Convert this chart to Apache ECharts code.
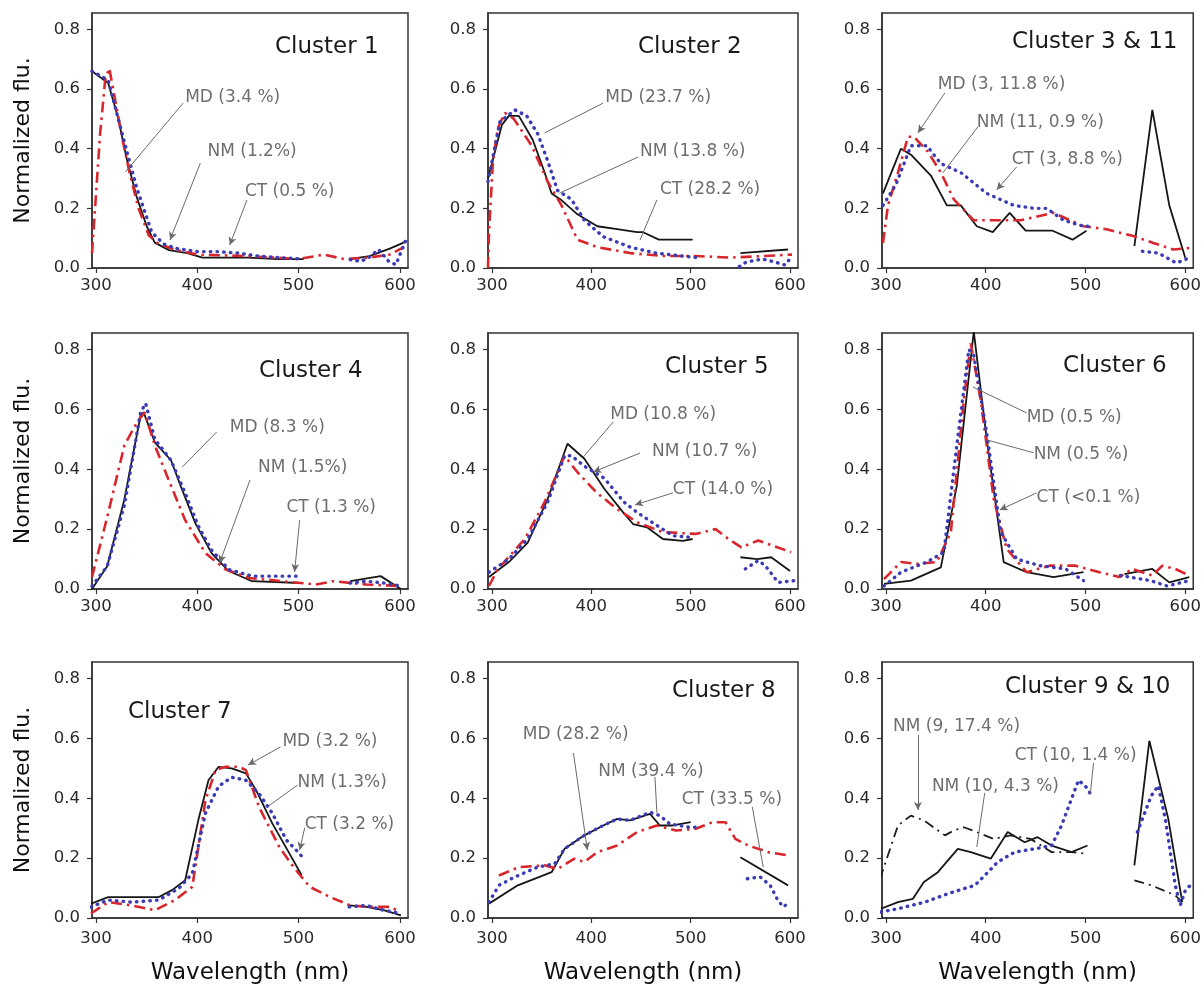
<!DOCTYPE html>
<html><head><meta charset="utf-8">
<script src="https://cdn.jsdelivr.net/npm/echarts@6/dist/echarts.min.js"></script>
<style>html,body{margin:0;padding:0;background:#fff}#c{width:1204px;height:996px}</style>
</head><body><div id="c"></div>
<script>
// ---------- tick labels / titles ----------
const xTicks = [300, 400, 500, 600];
const yTicks = [0, 0.2, 0.4, 0.6, 0.8];
const clusterTitles = ['Cluster 1','Cluster 2','Cluster 3 & 11','Cluster 4','Cluster 5','Cluster 6','Cluster 7','Cluster 8','Cluster 9 & 10'];

// ---------- series values: [wavelength nm, normalized fluorescence] (null = gap) ----------
const c1MD = [[296,0.66],[312,0.62],[322,0.5],[330,0.37],[340,0.24],[350,0.14],[358,0.085],[372,0.06],[390,0.05],[405,0.035],[450,0.035],[480,0.03],[505,0.03],[528,null],[550,0.03],[570,0.04],[590,0.065],[607,0.09]];
const c1NM = [[296,0.66],[312,0.63],[325,0.46],[340,0.27],[355,0.12],[367,0.08],[380,0.065],[400,0.055],[420,0.055],[440,0.05],[460,0.04],[480,0.035],[505,0.03],[528,null],[551,0.028],[561,0.022],[569,0.034],[579,0.062],[589,0.022],[596,0.011],[606,0.095]];
const c1CT = [[296,0.05],[300,0.25],[304,0.45],[309,0.63],[313,0.67],[318,0.58],[325,0.45],[333,0.32],[342,0.2],[352,0.11],[362,0.08],[380,0.06],[400,0.045],[450,0.04],[500,0.03],[525,0.045],[545,0.03],[570,0.035],[590,0.045],[604,0.07]];

const c2MD = [[296,0.3],[310,0.48],[317,0.51],[327,0.51],[341,0.43],[353,0.32],[360,0.25],[369,0.23],[386,0.18],[406,0.14],[426,0.13],[446,0.12],[452,0.12],[468,0.095],[502,0.095],[526,null],[550,0.05],[598,0.062]];
const c2NM = [[296,0.29],[308,0.49],[323,0.53],[335,0.51],[346,0.45],[356,0.36],[366,0.26],[380,0.23],[393,0.16],[412,0.105],[439,0.07],[465,0.05],[492,0.04],[506,0.035],[528,null],[549,0.005],[556,0.02],[572,0.03],[585,0.02],[595,0.01],[602,0.04]];
const c2CT = [[296,0.0],[297,0.12],[301,0.36],[306,0.47],[313,0.52],[322,0.5],[340,0.41],[356,0.29],[370,0.21],[386,0.095],[406,0.07],[439,0.05],[473,0.04],[506,0.04],[540,0.035],[573,0.04],[602,0.045]];

const c3MD = [[297,0.25],[315,0.4],[325,0.38],[345,0.31],[361,0.21],[375,0.21],[391,0.14],[407,0.12],[424,0.185],[440,0.125],[467,0.125],[487,0.095],[501,0.125],[525,null],[549,0.073],[567,0.53],[584,0.21],[600,0.034]];
const c3NM = [[297,0.21],[310,0.28],[325,0.41],[341,0.41],[355,0.35],[375,0.32],[401,0.25],[428,0.21],[448,0.2],[461,0.2],[478,0.16],[498,0.14],[504,0.14],[530,null],[557,0.056],[573,0.05],[591,0.017],[600,0.028],[605,0.039]];
const c3CT = [[297,0.084],[302,0.21],[312,0.32],[322,0.44],[328,0.44],[342,0.39],[355,0.32],[368,0.23],[388,0.16],[408,0.16],[435,0.16],[468,0.185],[498,0.14],[521,0.13],[548,0.107],[568,0.084],[588,0.062],[605,0.067]];

const c4MD = [[296,0.0],[311,0.076],[328,0.3],[344,0.58],[347,0.59],[358,0.49],[374,0.43],[384,0.34],[398,0.22],[414,0.12],[431,0.06],[454,0.026],[501,0.02],[526,null],[551,0.026],[581,0.043],[601,0.0]];
const c4NM = [[296,0.01],[311,0.076],[328,0.28],[344,0.59],[349,0.62],[358,0.5],[374,0.43],[388,0.32],[401,0.21],[414,0.13],[431,0.065],[454,0.043],[501,0.043],[526,null],[551,0.02],[567,0.026],[584,0.02],[601,0.01]];
const c4CT = [[296,0.04],[311,0.24],[328,0.48],[341,0.56],[348,0.59],[358,0.48],[371,0.37],[388,0.23],[408,0.12],[428,0.065],[451,0.037],[484,0.026],[517,0.015],[534,0.026],[567,0.015],[601,0.01]];

const c5MD = [[297,0.04],[317,0.09],[336,0.155],[356,0.3],[376,0.485],[393,0.435],[413,0.335],[432,0.256],[442,0.217],[456,0.206],[472,0.167],[492,0.161],[502,0.167],[526,null],[550,0.106],[567,0.1],[581,0.106],[600,0.06]];
const c5NM = [[297,0.056],[317,0.1],[336,0.167],[356,0.29],[373,0.445],[380,0.445],[393,0.41],[413,0.37],[433,0.29],[446,0.256],[466,0.212],[482,0.178],[499,0.173],[527,null],[555,0.067],[568,0.095],[575,0.078],[588,0.022],[605,0.028]];
const c5CT = [[297,0.01],[306,0.067],[333,0.167],[353,0.29],[366,0.39],[373,0.445],[386,0.39],[406,0.32],[426,0.267],[446,0.223],[472,0.19],[505,0.184],[525,0.2],[538,0.167],[551,0.139],[568,0.162],[601,0.123]];

const c6MD = [[298,0.017],[325,0.028],[355,0.072],[371,0.345],[388,0.86],[401,0.5],[418,0.09],[441,0.056],[468,0.04],[498,0.056],[518,null],[539,0.05],[567,0.067],[584,0.022],[604,0.04]];
const c6NM = [[298,0.01],[315,0.056],[341,0.09],[358,0.123],[371,0.48],[383,0.8],[388,0.78],[401,0.52],[415,0.19],[431,0.1],[454,0.078],[480,0.067],[498,0.028],[518,null],[535,0.045],[565,0.028],[582,0.01],[604,0.028]];
const c6CT = [[298,0.033],[315,0.09],[331,0.084],[351,0.09],[365,0.19],[378,0.63],[385,0.82],[395,0.63],[408,0.3],[421,0.134],[441,0.056],[464,0.078],[490,0.078],[514,0.056],[534,0.04],[547,0.067],[567,0.045],[577,0.078],[590,0.067],[604,0.045]];

const c7MD = [[295,0.048],[312,0.07],[335,0.07],[362,0.07],[375,0.093],[388,0.126],[401,0.327],[411,0.46],[421,0.505],[434,0.5],[448,0.483],[458,0.427],[474,0.316],[491,0.215],[503,0.143],[527,null],[550,0.042],[567,0.037],[584,0.026],[601,0.009]];
const c7NM = [[295,0.037],[312,0.06],[335,0.053],[362,0.06],[382,0.1],[395,0.148],[408,0.35],[421,0.44],[434,0.47],[448,0.46],[461,0.415],[474,0.35],[488,0.26],[501,0.215],[506,0.193],[528,null],[550,0.037],[567,0.042],[584,0.026],[601,0.015]];
const c7CT = [[295,0.015],[312,0.053],[335,0.042],[358,0.026],[378,0.06],[395,0.104],[408,0.393],[418,0.494],[428,0.505],[441,0.505],[448,0.494],[461,0.37],[481,0.237],[495,0.17],[511,0.104],[531,0.07],[551,0.042],[571,0.037],[591,0.037],[600,0.02]];

const c8MD = [[297,0.048],[326,0.109],[360,0.153],[373,0.231],[393,0.276],[412,0.309],[426,0.331],[439,0.326],[459,0.348],[469,0.309],[482,0.309],[500,0.32],[525,null],[550,0.203],[598,0.109]];
const c8NM = [[297,0.053],[307,0.109],[323,0.137],[346,0.17],[363,0.181],[373,0.231],[393,0.276],[412,0.309],[426,0.331],[439,0.326],[459,0.353],[469,0.342],[479,0.314],[499,0.303],[509,0.303],[533,null],[557,0.131],[570,0.137],[580,0.109],[587,0.064],[593,0.037],[600,0.053]];
const c8CT = [[307,0.142],[327,0.17],[353,0.176],[366,0.164],[383,0.198],[393,0.187],[406,0.22],[426,0.242],[446,0.287],[466,0.309],[485,0.292],[505,0.298],[522,0.32],[535,0.32],[545,0.264],[558,0.242],[578,0.22],[598,0.209]];

const c9NM10 = [[295,0.031],[312,0.053],[327,0.064],[338,0.12],[352,0.153],[372,0.231],[385,0.22],[405,0.198],[422,0.287],[439,0.253],[452,0.27],[466,0.242],[486,0.22],[502,0.242],[526,null],[549,0.176],[564,0.592],[583,0.331],[597,0.053]];
const c9CT10 = [[295,0.02],[312,0.031],[339,0.053],[362,0.081],[389,0.109],[399,0.142],[412,0.187],[429,0.22],[449,0.231],[466,0.242],[476,0.309],[486,0.398],[493,0.46],[500,0.44],[506,0.41],[529,null],[552,0.287],[566,0.409],[573,0.442],[580,0.331],[590,0.109],[595,0.042],[600,0.092],[605,0.109]];
const c9NM9 = [[294,0.131],[312,0.309],[325,0.342],[338,0.326],[359,0.276],[368,0.292],[378,0.303],[391,0.287],[408,0.264],[425,0.276],[445,0.264],[466,0.22],[486,0.22],[502,0.214],[526,null],[549,0.126],[566,0.109],[590,0.076],[597,0.053]];

// ---------- annotations: [text, textX, textY, lineFromX, lineFromY, lineToX, lineToY, arrow] (data units) ----------
const ann1 = [['MD (3.4 %)',388,0.57,386,0.553,329,0.322,0],['NM (1.2%)',410,0.389,403,0.352,373,0.094,1],['CT (0.5 %)',447,0.255,449,0.228,432,0.077,1]];
const ann2 = [['MD (23.7 %)',414,0.57,412,0.553,353,0.453,0],['NM (13.8 %)',449,0.389,447,0.372,368,0.251,0],['CT (28.2 %)',469,0.262,466,0.228,449,0.094,0]];
const ann3 = [['MD (3, 11.8 %)',352,0.614,359,0.587,332,0.453,1],['NM (11, 0.9 %)',391,0.486,392,0.473,357,0.319,0],['CT (3, 8.8 %)',426,0.362,431,0.339,411,0.262,1]];
const ann4 = [['MD (8.3 %)',432,0.538,419,0.524,385,0.407,0],['NM (1.5%)',460,0.404,452,0.364,422,0.087,1],['CT (1.3 %)',488,0.271,501,0.23,496,0.057,1]];
const ann5 = [['MD (10.8 %)',419,0.581,422,0.558,392,0.441,0],['NM (10.7 %)',461,0.458,449,0.454,402,0.391,1],['CT (14.0 %)',482,0.331,482,0.321,444,0.281,1]];
const ann6 = [['MD (0.5 %)',441,0.574,441,0.588,387,0.675,0],['NM (0.5 %)',448,0.448,448,0.455,401,0.498,0],['CT (<0.1 %)',451,0.307,451,0.321,414,0.264,1]];
const ann7 = [['MD (3.2 %)',484,0.588,482,0.571,450,0.511,1],['NM (1.3%)',499,0.451,499,0.444,469,0.371,0],['CT (3.2 %)',506,0.311,506,0.301,501,0.227,1]];
const ann8 = [['MD (28.2 %)',331,0.611,382,0.551,396,0.227,1],['NM (39.4 %)',407,0.488,464,0.471,466,0.351,0],['CT (33.5 %)',491,0.394,562,0.371,573,0.17,0]];
const ann9 = [['NM (9, 17.4 %)',307,0.638,332,0.611,332,0.361,1],['CT (10, 1.4 %)',429,0.544,508,0.518,505,0.418,0],['NM (10, 4.3 %)',346,0.438,399,0.418,391,0.237,0]];

// ---------- build ----------
const FONT = 'DejaVu Sans';
const STYLES = {
  solid:   {color:'#161616', width:1.8, type:'solid'},
  dotted:  {color:'#3b3bb4', width:3.4, type:[0.5,6.2], cap:'round'},
  dashdot: {color:'#d8262c', width:2.6, type:[11,5,2.5,5]},
  dashdotK:{color:'#1e1e1e', width:1.8, type:[10,5,2,5]}
};
const panels = [
  {lines:[[c1MD,'solid'],[c1CT,'dashdot'],[c1NM,'dotted']], ann:ann1},
  {lines:[[c2MD,'solid'],[c2CT,'dashdot'],[c2NM,'dotted']], ann:ann2},
  {lines:[[c3MD,'solid'],[c3CT,'dashdot'],[c3NM,'dotted']], ann:ann3},
  {lines:[[c4MD,'solid'],[c4CT,'dashdot'],[c4NM,'dotted']], ann:ann4},
  {lines:[[c5MD,'solid'],[c5CT,'dashdot'],[c5NM,'dotted']], ann:ann5},
  {lines:[[c6MD,'solid'],[c6CT,'dashdot'],[c6NM,'dotted']], ann:ann6},
  {lines:[[c7MD,'solid'],[c7CT,'dashdot'],[c7NM,'dotted']], ann:ann7},
  {lines:[[c8MD,'solid'],[c8CT,'dashdot'],[c8NM,'dotted']], ann:ann8},
  {lines:[[c9NM10,'solid'],[c9NM9,'dashdotK'],[c9CT10,'dotted']], ann:ann9}
];
const colLeft = [92, 488, 882], colWidth = [316, 310, 313];
const rowTop = [13, 333, 662], rowHeight = [255, 256, 256];
const titlePos = [[275,36],[638,36],[1012,31],[259,360],[665,356],[1063,355],[128,701],[672,680],[1005,676]];

const grid = [], xAxis = [], yAxis = [], series = [], title = [];
panels.forEach((p, i) => {
  const r = Math.floor(i / 3), c = i % 3;
  grid.push({left:colLeft[c], top:rowTop[r], width:colWidth[c], height:rowHeight[r],
    show:true, borderColor:'#333', borderWidth:1.5, backgroundColor:'#fff'});
  xAxis.push({type:'value', gridIndex:i, min:296, max:608,
    axisLine:{show:true, onZero:false, lineStyle:{color:'#333', width:1.5}},
    axisTick:{show:true, customValues:xTicks, length:5, lineStyle:{color:'#333', width:1.2}},
    axisLabel:{customValues:xTicks, margin:r===2?12:9, fontSize:16.5, color:'#2a2a2a', fontFamily:FONT},
    splitLine:{show:false},
    name: r===2 ? 'Wavelength (nm)' : '', nameLocation:'middle', nameGap:44,
    nameTextStyle:{fontSize:23, color:'#111', fontFamily:FONT}});
  yAxis.push({type:'value', gridIndex:i, min:0, max:0.855,
    axisLine:{show:true, onZero:false, lineStyle:{color:'#333', width:1.5}},
    axisTick:{show:true, customValues:yTicks, length:5, lineStyle:{color:'#333', width:1.2}},
    axisLabel:{customValues:yTicks, margin:12, fontSize:16.5, color:'#2a2a2a', fontFamily:FONT, formatter:v=>Number(v).toFixed(1)},
    splitLine:{show:false},
    name: c===0 ? 'Normalized flu.' : '', nameLocation:'middle', nameGap:58,
    nameTextStyle:{fontSize:22, color:'#111', fontFamily:FONT}});
  title.push({text:clusterTitles[i], left:titlePos[i][0], top:titlePos[i][1], padding:0,
    textStyle:{fontSize:23, fontWeight:'normal', color:'#1a1a1a', fontFamily:FONT}});
  p.lines.forEach(([data, st]) => {
    series.push({type:'line', xAxisIndex:i, yAxisIndex:i, data:data, showSymbol:false, symbol:'none',
      connectNulls:false, clip:true, animation:false, silent:true, lineStyle:STYLES[st]});
  });
  series.push({type:'scatter', xAxisIndex:i, yAxisIndex:i, symbolSize:0, silent:true, animation:false,
    data:p.ann.map(a => ({name:a[0], value:[a[1], a[2]]})),
    label:{show:true, position:'right', distance:0, formatter:'{b}', fontSize:17, color:'#4a4a4a', fontFamily:FONT},
    markLine:{silent:true, animation:false, symbol:['none','none'], label:{show:false},
      lineStyle:{color:'#6a6a6a', width:1, type:'solid'},
      data:p.ann.map(a => [{coord:[a[3], a[4]], symbol:'none'},
                           {coord:[a[5], a[6]], symbol:a[7] ? 'arrow' : 'none', symbolSize:a[7] ? [6,8] : 0}])}
  });
});

const chart = echarts.init(document.getElementById('c'), null, {renderer:'canvas'});
chart.setOption({backgroundColor:'#fff', animation:false, title, grid, xAxis, yAxis, series});
</script></body></html>
